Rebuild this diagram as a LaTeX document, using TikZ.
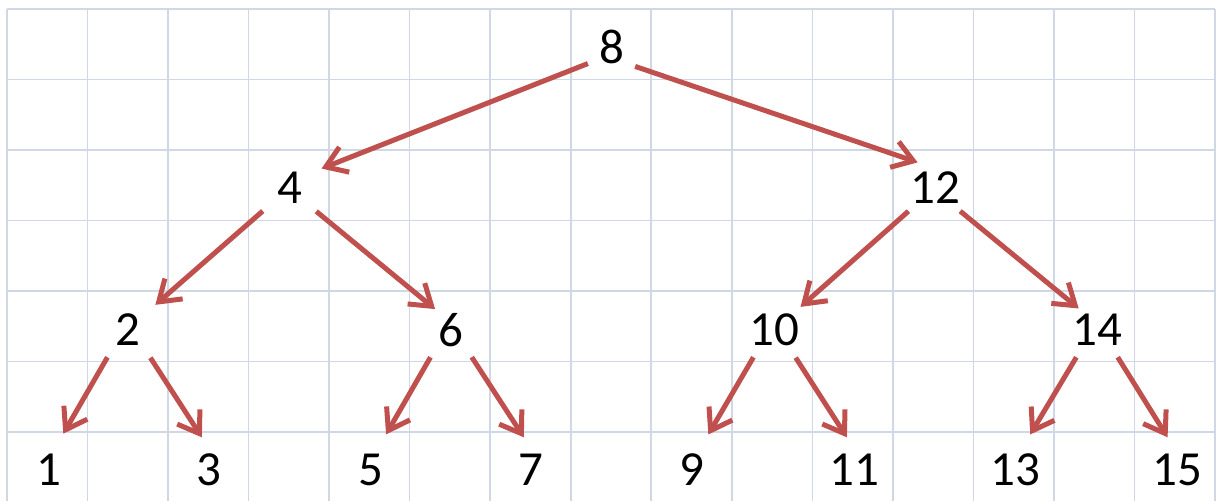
\documentclass[tikz,border=0pt]{standalone}
\usepackage{fontspec}
\setmainfont{Carlito}
\usetikzlibrary{arrows.meta}
\definecolor{gridc}{RGB}{208,215,229}
\definecolor{arrc}{RGB}{192,80,77}
\begin{document}
\begin{tikzpicture}[x=1pt,y=-1pt,
  num/.style={circle,inner sep=0pt,minimum size=60pt,font=\fontsize{49}{58}\selectfont},
  edge/.style={draw=arrc,line width=5pt,-{Straight Barb[length=20pt,width=27pt,line width=5pt]},
    preaction={draw=black,opacity=0.12,transform canvas={shift={(1.5pt,-2pt)}}}}]
\useasboundingbox (0,0) rectangle (1216,501);
\fill[white] (0,0) rectangle (1216,501);
% grid
\foreach \k in {0,...,15}
  \draw[gridc,line width=1.6pt] ({7+\k*80.53},9) -- ({7+\k*80.53},501);
\foreach \k in {0,...,6}
  \draw[gridc,line width=1.6pt] (7,{9+\k*70.5}) -- (1215,{9+\k*70.5});
% nodes
\node[num] (n8)  at (612,47)  {8};
\node[num] (n4)  at (290,188) {4};
\node[num] (n12) at (935,188) {12};
\node[num] (n2)  at (128,330) {2};
\node[num] (n6)  at (451,330) {6};
\node[num] (n10) at (774,330) {10};
\node[num] (n14) at (1097,330) {14};
\node[num] (n1)  at (49,470)  {1};
\node[num] (n3)  at (209,470) {3};
\node[num] (n5)  at (371,470) {5};
\node[num] (n7)  at (531,470) {7};
\node[num] (n9)  at (692,470) {9};
\node[num] (n11) at (854,470) {11};
\node[num] (n13) at (1015,470) {13};
\node[num] (n15) at (1177,470) {15};
% edges
\foreach \a/\sa/\ss/\b/\eb/\es in {
  n8/214/-1/n4/34/7, n8/320/0/n12/123/1,
  n4/220/5.5/n2/43/7, n4/318/5/n6/129/-4,
  n12/221/5/n10/41/5, n12/317/4/n14/131/-2,
  n2/232/4/n1/71/9, n2/310/5.5/n3/100/3.5,
  n6/232/4/n5/69/8.6, n6/308/4/n7/100/3.5,
  n10/232/4/n9/67/9, n10/309/5/n11/100/3.5,
  n14/232/4/n13/69/8.6, n14/308/4/n15/104/4}
  \draw[edge,shorten <=\ss pt,shorten >=\es pt] (\a.\sa) -- (\b.\eb);
\end{tikzpicture}
\end{document}
